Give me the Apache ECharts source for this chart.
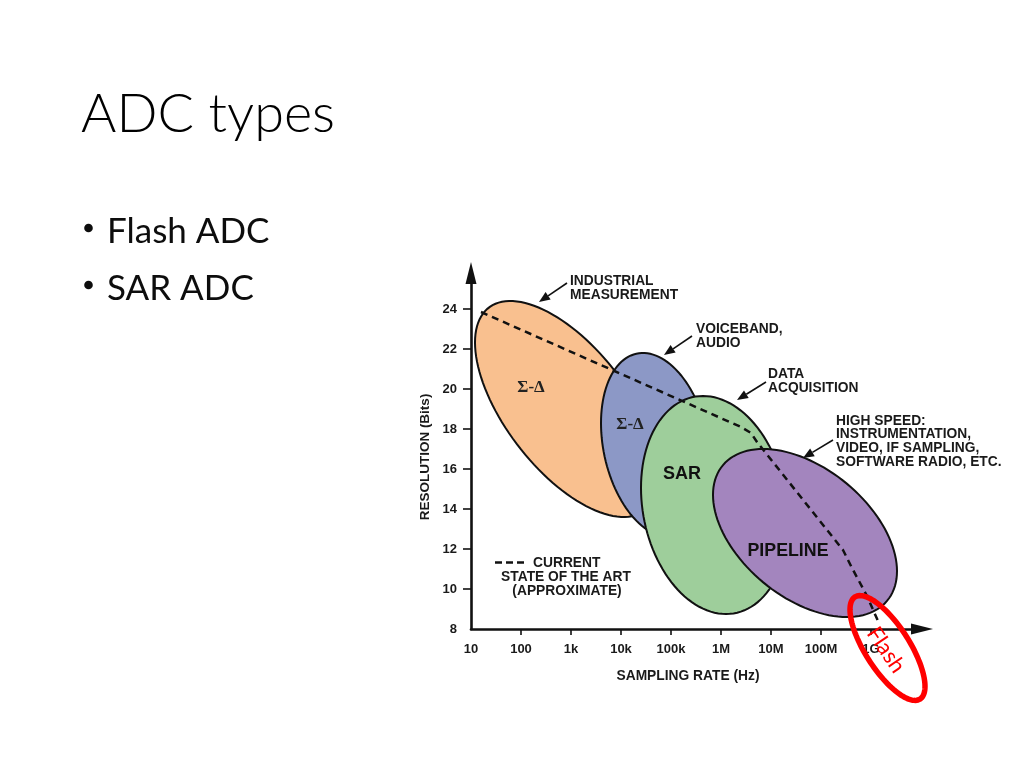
<!DOCTYPE html>
<html>
<head>
<meta charset="utf-8">
<style>
html,body{margin:0;padding:0;background:#ffffff;}
#c{width:1024px;height:768px;}
</style>
<script src="https://cdn.jsdelivr.net/npm/echarts@6/dist/echarts.min.js"></script>
</head>
<body>
<div id="c"></div>
<script>
// ---- Data (x = log10 of sampling rate in Hz, y = resolution in bits) ----
const xTickValues = [1, 2, 3, 4, 5, 6, 7, 8, 9];
const xTickLabels = ['10', '100', '1k', '10k', '100k', '1M', '10M', '100M', '1G'];
const yTickValues = [8, 10, 12, 14, 16, 18, 20, 22, 24];

// ADC architecture regions (ellipses): centre, half-extent in decades / bits, tilt phase (deg)
const regionNames = ['Σ-Δ industrial', 'Σ-Δ voiceband', 'SAR', 'PIPELINE'];
const regionCenterLogHz = [2.92, 4.70, 5.87, 7.68];
const regionCenterBits = [19.0, 17.2, 14.2, 12.8];
const regionHalfDecades = [1.84, 1.10, 1.47, 1.84];
const regionHalfBits = [5.40, 4.60, 5.45, 4.20];
const regionTiltDeg = [128, 103.7, 99, 117];

// Current state of the art (approximate) dashed curve
const sotaLogHz = [1.20, 6.40, 6.60, 6.72, 8.44, 8.62, 8.92, 9.14];
const sotaBits = [23.85, 18.10, 17.80, 17.35, 11.95, 11.05, 9.65, 8.40];

// Flash region (red highlight)
const flashCenterLogHz = [9.33];
const flashCenterBits = [7.05];
const flashHalfDecades = [0.75];
const flashHalfBits = [2.62];
const flashTiltDeg = [137];

// ---- Styles ----
const regionFill = ['#F9C08F', '#8C98C6', '#9ECE9B', '#A385BE'];
const chartFont = "'Liberation Sans', Arial, sans-serif";
const slideFont = "Lato, 'Open Sans', sans-serif";

const regionData = regionNames.map((n, i) => ({
  name: n,
  value: [regionCenterLogHz[i], regionCenterBits[i], regionHalfDecades[i], regionHalfBits[i], regionTiltDeg[i], i]
}));
const flashData = flashCenterLogHz.map((v, i) => ({
  name: 'Flash',
  value: [v, flashCenterBits[i], flashHalfDecades[i], flashHalfBits[i], flashTiltDeg[i], 0]
}));
const sotaData = sotaLogHz.map((v, i) => [v, sotaBits[i]]);

function ellipsePoints(api) {
  const cx = api.value(0), cy = api.value(1), hx = api.value(2), hy = api.value(3);
  const phi = api.value(4) * Math.PI / 180;
  const pts = [];
  const n = 120;
  for (let k = 0; k < n; k++) {
    const t = 2 * Math.PI * k / n;
    pts.push(api.coord([cx + hx * Math.cos(t), cy + hy * Math.cos(t - phi)]));
  }
  return pts;
}

function arrow(x1, y1, x2, y2) {
  const a = Math.atan2(y2 - y1, x2 - x1);
  const L = 11, W = 4.5;
  const bx = x2 - L * Math.cos(a), by = y2 - L * Math.sin(a);
  const nx = -Math.sin(a), ny = Math.cos(a);
  return [
    { type: 'line', shape: { x1: x1, y1: y1, x2: bx, y2: by }, style: { stroke: '#111', lineWidth: 1.6 }, z: 10 },
    { type: 'polygon', shape: { points: [[x2, y2], [bx + W * nx, by + W * ny], [bx - W * nx, by - W * ny]] }, style: { fill: '#111' }, z: 10 }
  ];
}

function txt(text, x, y, opts) {
  return Object.assign({
    type: 'text', x: x, y: y, z: 10,
    style: Object.assign({
      text: text, fill: '#1a1a1a', fontFamily: chartFont, fontSize: 14, fontWeight: 'bold',
      align: 'left', verticalAlign: 'middle', lineHeight: 14
    }, opts || {})
  });
}

const chart = echarts.init(document.getElementById('c'), null, { renderer: 'canvas' });

const graphics = [].concat(
  [
    // slide title and bullets
    txt('ADC types', 81, 115, { fontFamily: slideFont, fontWeight: 300, fontSize: 54, fill: '#000' }),
    { type: 'circle', shape: { cx: 88.5, cy: 228, r: 4.3 }, style: { fill: '#0d0d0d' } },
    txt('Flash ADC', 107, 231.5, { fontFamily: slideFont, fontWeight: 'normal', fontSize: 35, fill: '#0d0d0d' }),
    { type: 'circle', shape: { cx: 88.5, cy: 285, r: 4.3 }, style: { fill: '#0d0d0d' } },
    txt('SAR ADC', 107, 288.5, { fontFamily: slideFont, fontWeight: 'normal', fontSize: 35, fill: '#0d0d0d' }),

    // axis titles
    Object.assign(txt('RESOLUTION (Bits)', 425, 457, { align: 'center', fontSize: 13.5 }), { rotation: Math.PI / 2 }),
    txt('SAMPLING RATE (Hz)', 688, 676, { align: 'center', fontSize: 13.8 }),

    // callouts
    txt('INDUSTRIAL\nMEASUREMENT', 570, 288, { fontSize: 13.8 }),
    txt('VOICEBAND,\nAUDIO', 696, 336, { fontSize: 13.8 }),
    txt('DATA\nACQUISITION', 768, 381, { fontSize: 13.8 }),
    txt('HIGH SPEED:\nINSTRUMENTATION,\nVIDEO, IF SAMPLING,\nSOFTWARE RADIO, ETC.', 836, 441.5, { fontSize: 13.8, lineHeight: 13.7 }),

    // region labels
    txt('Σ-Δ', 531, 388, { align: 'center', fontFamily: "'Liberation Serif', 'DejaVu Serif', serif", fontSize: 17, fill: '#222' }),
    txt('Σ-Δ', 630, 425, { align: 'center', fontFamily: "'Liberation Serif', 'DejaVu Serif', serif", fontSize: 17, fill: '#222' }),
    txt('SAR', 682, 474, { align: 'center', fontSize: 18, fill: '#111' }),
    txt('PIPELINE', 788, 551, { align: 'center', fontSize: 17.8, fill: '#111' }),

    // legend for dashed curve
    { type: 'line', shape: { x1: 495, y1: 562.5, x2: 527, y2: 562.5 }, style: { stroke: '#111', lineWidth: 2.5, lineDash: [7, 4] }, z: 10 },
    txt('CURRENT', 533, 563, { fontSize: 13.8 }),
    txt('STATE OF THE ART', 566, 577, { align: 'center', fontSize: 13.8 }),
    txt('(APPROXIMATE)', 567, 591, { align: 'center', fontSize: 13.8 }),

    // Flash label
    Object.assign(txt('Flash', 886, 650, { align: 'center', fontFamily: slideFont, fontWeight: 'normal', fontSize: 22, fill: '#ff0000' }),
      { rotation: -56 * Math.PI / 180, z: 20 })
  ],
  arrow(567, 283, 539, 302),
  arrow(692, 336, 664, 355),
  arrow(766, 382, 737, 400),
  arrow(833, 440, 803, 458)
);

const option = {
  backgroundColor: '#ffffff',
  animation: false,
  grid: { left: 471, top: 273, right: 102, bottom: 139, containLabel: false },
  xAxis: {
    type: 'value', min: 1, max: 10.02,
    splitLine: { show: false },
    axisLine: { show: true, lineStyle: { color: '#111', width: 2.6 }, symbol: ['none', 'triangle'], symbolSize: [11, 22] },
    axisTick: { show: true, customValues: xTickValues.slice(1), length: 6, lineStyle: { color: '#111', width: 1.6 } },
    axisLabel: {
      customValues: xTickValues, margin: 14,
      formatter: function (v) { const i = xTickValues.indexOf(Math.round(v)); return i >= 0 ? xTickLabels[i] : ''; },
      color: '#1a1a1a', fontFamily: chartFont, fontSize: 13, fontWeight: 'bold'
    }
  },
  yAxis: {
    type: 'value', min: 8, max: 25.8,
    splitLine: { show: false },
    axisLine: { show: true, lineStyle: { color: '#111', width: 2.6 }, symbol: ['none', 'triangle'], symbolSize: [11, 22] },
    axisTick: { show: true, customValues: yTickValues.slice(1), length: 8, lineStyle: { color: '#111', width: 1.6 } },
    axisLabel: {
      customValues: yTickValues, margin: 14,
      formatter: function (v) { return String(Math.round(v)); },
      color: '#1a1a1a', fontFamily: chartFont, fontSize: 13, fontWeight: 'bold'
    }
  },
  series: [
    {
      type: 'custom', name: 'Regions', clip: false, z: 3,
      data: regionData,
      renderItem: function (params, api) {
        return {
          type: 'polygon',
          shape: { points: ellipsePoints(api) },
          style: { fill: regionFill[api.value(5)], stroke: '#111', lineWidth: 2 }
        };
      }
    },
    {
      type: 'line', name: 'Current state of the art', z: 5,
      data: sotaData, showSymbol: false, symbol: 'none', smooth: false,
      lineStyle: { color: '#111', width: 2.5, type: [7, 5] }
    },
    {
      type: 'custom', name: 'Flash', clip: false, z: 8,
      data: flashData,
      renderItem: function (params, api) {
        return {
          type: 'polygon',
          shape: { points: ellipsePoints(api) },
          style: { fill: 'none', stroke: '#ff0000', lineWidth: 5.5 }
        };
      }
    }
  ],
  graphic: graphics
};

chart.setOption(option);
</script>
</body>
</html>
